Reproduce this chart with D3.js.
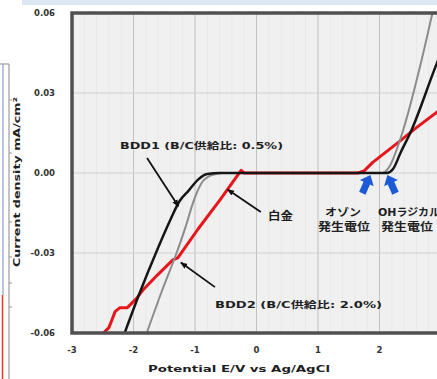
<!DOCTYPE html>
<html>
<head>
<meta charset="utf-8">
<script src="https://cdn.jsdelivr.net/npm/d3@7"></script>
<style>
  body { margin: 0; background: #fff; }
  svg { display: block; font-family: "DejaVu Sans", "Noto Sans CJK JP", sans-serif; font-weight: bold; }
</style>
</head>
<body>
<div id="chart"></div>
<script>
const width = 437;
const height = 379;

// axis ticks (the "3" tick sits just past the right edge of the crop)
const xTicks = [-3, -2, -1, 0, 1, 2, 3];
const xTickLabels = ["-3", "-2", "-1", "0", "1", "2", "3"];
const yTicks = [-0.06, -0.03, 0, 0.03, 0.06];
const yTickLabels = ["-0.06", "-0.03", "0.00", "0.03", "0.06"];

// potential (V) , current density (mA/cm2)
const bdd2 = [
  [-2.62, -0.063], [-2.4, -0.058], [-2.3, -0.052], [-2.22, -0.0505], [-2.1, -0.0505],
  [-1.95, -0.047], [-1.85, -0.044], [-1.6, -0.038], [-1.36, -0.0326], [-1.28, -0.0318],
  [-0.95, -0.021], [-0.59, -0.010], [-0.25, 0.001], [-0.2, 0], [1.65, 0], [1.75, 0.0008],
  [1.89, 0.004], [2.28, 0.011], [2.6, 0.017], [3.0, 0.024]
];
const platinum = [
  [-1.8, -0.061], [-1.55, -0.045], [-1.3, -0.03], [-1.15, -0.02], [-1.03, -0.011],
  [-0.9, -0.004], [-0.75, -0.001], [-0.55, 0], [2.05, 0], [2.15, 0.002],
  [2.37, 0.015], [2.66, 0.04], [2.88, 0.062]
];
const bdd1 = [
  [-2.16, -0.061], [-1.9, -0.045], [-1.6, -0.028], [-1.4, -0.0175], [-1.25, -0.0105],
  [-1.1, -0.0065], [-0.95, -0.0025], [-0.8, -0.0004], [-0.6, 0], [2.12, 0],
  [2.22, 0.0015], [2.35, 0.008], [2.5, 0.015], [2.93, 0.041], [3.0, 0.045]
];

const x = d3.scaleLinear().domain([-3, 3]).range([72, 441]);
const y = d3.scaleLinear().domain([-0.06, 0.06]).range([333, 13]);

const svg = d3.select("#chart").append("svg")
  .attr("width", width)
  .attr("height", height);

// strip of the page above and neighbour figure on the left
svg.append("rect").attr("x", 22).attr("y", 0).attr("width", width - 22).attr("height", 5).attr("fill", "#dde7f3");
svg.append("path").attr("d", "M0,64H9V379").attr("fill", "none").attr("stroke", "#888").attr("stroke-width", 1);
svg.append("line").attr("x1", 3).attr("x2", 3).attr("y1", 64).attr("y2", 295).attr("stroke", "#9fb0d8").attr("stroke-width", 1.5);
svg.append("line").attr("x1", 2.5).attr("x2", 2.5).attr("y1", 295).attr("y2", 379).attr("stroke", "#e33").attr("stroke-width", 1.5);
[100, 153, 222, 257, 283, 307].forEach(t => {
  svg.append("line").attr("x1", 9).attr("x2", 12).attr("y1", t).attr("y2", t).attr("stroke", "#999");
});

svg.append("defs").append("clipPath").attr("id", "plot")
  .append("rect").attr("x", x(-3)).attr("y", y(0.06))
  .attr("width", x(3) - x(-3)).attr("height", y(-0.06) - y(0.06));

svg.append("marker").attr("id", "tip")
  .attr("viewBox", "0 -5 10 10").attr("refX", 9).attr("refY", 0)
  .attr("markerWidth", 4).attr("markerHeight", 4).attr("orient", "auto")
  .append("path").attr("d", "M0,-4L10,0L0,4Z").attr("fill", "#111");

// plot background + grid
svg.append("rect").attr("x", x(-3)).attr("y", y(0.06))
  .attr("width", x(3) - x(-3)).attr("height", y(-0.06) - y(0.06)).attr("fill", "#f0f0f0");

svg.append("g").selectAll("line").data(d3.range(-3, 3.01, 0.2))
  .join("line")
  .attr("x1", d => x(d)).attr("x2", d => x(d))
  .attr("y1", y(0.06)).attr("y2", y(-0.06))
  .attr("stroke", "#e8e8e8").attr("stroke-width", 1);

svg.append("g").selectAll("line").data(xTicks.slice(1))
  .join("line")
  .attr("x1", d => x(d)).attr("x2", d => x(d))
  .attr("y1", y(0.06)).attr("y2", y(-0.06))
  .attr("stroke", "#c2c2c2").attr("stroke-width", 1);

svg.append("g").selectAll("line").data(yTicks.slice(1, -1))
  .join("line")
  .attr("x1", x(-3)).attr("x2", x(3))
  .attr("y1", d => y(d)).attr("y2", d => y(d))
  .attr("stroke", "#d2d2d2").attr("stroke-width", 1);

// curves
const curves = svg.append("g").attr("clip-path", "url(#plot)").attr("fill", "none")
  .attr("stroke-linejoin", "round").attr("stroke-linecap", "round");

curves.append("path").datum(bdd2)
  .attr("d", d3.line().x(d => x(d[0])).y(d => y(d[1])))
  .attr("stroke", "#e8151b").attr("stroke-width", 3);

curves.append("path").datum(platinum)
  .attr("d", d3.line().curve(d3.curveMonotoneX).x(d => x(d[0])).y(d => y(d[1])))
  .attr("stroke", "#8c8c8c").attr("stroke-width", 2);

curves.append("path").datum(bdd1)
  .attr("d", d3.line().curve(d3.curveMonotoneX).x(d => x(d[0])).y(d => y(d[1])))
  .attr("stroke", "#161616").attr("stroke-width", 2.5);

// frame
svg.append("rect").attr("x", x(-3)).attr("y", y(0.06))
  .attr("width", x(3) - x(-3)).attr("height", y(-0.06) - y(0.06))
  .attr("fill", "none").attr("stroke", "#505050").attr("stroke-width", 3.5);

// tick labels, only those that fall inside the crop
svg.append("g").selectAll("text").data(xTicks.filter(d => x(d) < width - 6))
  .join("text")
  .attr("x", d => x(d)).attr("y", 353)
  .attr("text-anchor", "middle").attr("font-size", 8.5).attr("fill", "#333")
  .text(d => xTickLabels[xTicks.indexOf(d)]);

svg.append("g").selectAll("text").data(yTicks)
  .join("text")
  .attr("x", 55).attr("y", d => y(d) + 3)
  .attr("text-anchor", "end").attr("font-size", 8.5).attr("fill", "#333")
  .text((d, i) => yTickLabels[i]);

function label (txt, px, py, size, len, anchor) {
  const t = svg.append("text")
    .attr("x", px).attr("y", py)
    .attr("font-size", size).attr("fill", "#1e1e1e")
    .attr("text-anchor", anchor || "start")
    .text(txt);
  if (len) t.attr("textLength", len).attr("lengthAdjust", "spacingAndGlyphs");
  return t;
}

label("Potential E/V vs Ag/AgCl", 148, 372, 9.5, 182);
svg.append("text")
  .attr("transform", "translate(20,182) rotate(-90)")
  .attr("text-anchor", "middle").attr("font-size", 9.5).attr("fill", "#1e1e1e")
  .attr("textLength", 170).attr("lengthAdjust", "spacingAndGlyphs")
  .text("Current density mA/cm²");

// annotations
label("BDD1 (B/C供給比: 0.5%)", 120, 149, 9.5, 163);
label("BDD2 (B/C供給比: 2.0%)", 215, 308, 9.5, 167);
label("白金", 268, 220, 11, 25);
label("オゾン", 343, 216, 10.5, 36, "middle");
label("発生電位", 344, 231, 11, 52, "middle");
label("OHラジカル", 378, 216, 10.5, 62);
label("発生電位", 381, 231, 11, 52);

const pointers = [
  [[-1.78, 0.0056], [-1.27, -0.0125]],
  [[0.07, -0.0146], [-0.47, -0.0062]],
  [[-0.675, -0.0428], [-1.23, -0.0336]]
];
svg.append("g").selectAll("line").data(pointers)
  .join("line")
  .attr("x1", d => x(d[0][0])).attr("y1", d => y(d[0][1]))
  .attr("x2", d => x(d[1][0])).attr("y2", d => y(d[1][1]))
  .attr("stroke", "#111").attr("stroke-width", 1.8)
  .attr("marker-end", "url(#tip)");

// blue arrows under the onset potentials
const arrow = "M0,-11L7.5,-2L3.5,-2L3.5,9L-3.5,9L-3.5,-2L-7.5,-2Z";
[[1.78, 24], [2.2, -24]].forEach(([v, a]) => {
  svg.append("path")
    .attr("d", arrow)
    .attr("transform", `translate(${x(v)},${y(-0.0045)}) rotate(${a})`)
    .attr("fill", "#1d5bd6");
});
</script>
</body>
</html>
